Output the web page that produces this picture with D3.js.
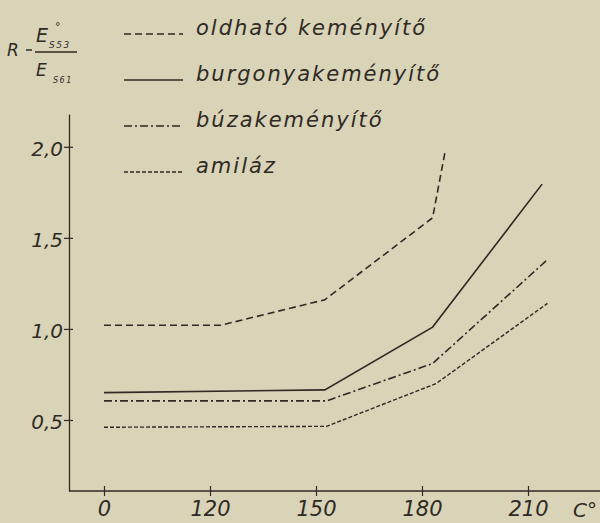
<!DOCTYPE html>
<html>
<head>
<meta charset="utf-8">
<script src="https://cdn.jsdelivr.net/npm/d3@7"></script>
<style>
  html, body { margin: 0; padding: 0; background: #d9d3b8; }
  svg { display: block; }
  .hand { font-family: "DejaVu Sans", sans-serif; font-style: italic; fill: #2f2a24; }
</style>
</head>
<body>
<div id="chart"></div>
<script>
// x ticks (temperature, C°) - axis is not linear, each step is equal width
var tempTicks = [0, 120, 150, 180, 210];
var rTicks = [0.5, 1.0, 1.5, 2.0];

var seriesNames = ["oldható keményítő", "burgonyakeményítő", "búzakeményítő", "amiláz"];

// values
var oldhatoT = [0, 123, 152.5, 183, 186.5];
var oldhatoR = [1.02, 1.02, 1.16, 1.61, 1.97];
var burgonyaT = [0, 152.5, 183, 214];
var burgonyaR = [0.65, 0.665, 1.01, 1.795];
var buzaT = [0, 153, 183, 215.5];
var buzaR = [0.605, 0.605, 0.81, 1.38];
var amilazT = [0, 153, 184, 215.5];
var amilazR = [0.46, 0.465, 0.70, 1.14];

var width = 600, height = 523;
var ink = "#2f2a24";

var svg = d3.select("#chart")
            .append("svg")
            .attr("width", width)
            .attr("height", height);

// piecewise x scale, every tick step gets same width
var x = d3.scaleLinear()
          .domain(tempTicks)
          .range([104, 210, 316, 422, 528]);

var y = d3.scaleLinear()
          .domain([0.11, 2.18])
          .range([491, 114]);

var fmt = function (d) { return d3.format(".1f")(d).replace(".", ","); };

// --
var xAxis = d3.axisBottom(x)
              .tickValues(tempTicks)
              .tickSizeOuter(0)
              .tickFormat(d3.format("d"));

var gx = svg.append("g")
            .attr("transform", "translate(0," + y.range()[0] + ")")
            .call(xAxis);
gx.select(".domain").remove();
gx.selectAll(".tick line").attr("y1", -5).attr("y2", 5).attr("stroke", ink).attr("stroke-width", 1.2);
gx.selectAll(".tick text")
  .attr("class", "hand")
  .attr("y", 10)
  .attr("font-size", "21px")
  .attr("dy", "0.71em")
  .attr("font-family", null);

svg.append("line")
   .attr("x1", 69).attr("x2", width)
   .attr("y1", y.range()[0]).attr("y2", y.range()[0])
   .attr("stroke", ink).attr("stroke-width", 1.3);

svg.append("text")
   .attr("class", "hand")
   .attr("x", 597)
   .attr("y", 517)
   .attr("text-anchor", "end")
   .attr("font-size", "20px")
   .text("C°");

// --
var yAxis = d3.axisLeft(y)
              .tickValues(rTicks)
              .tickSizeOuter(0)
              .tickFormat(fmt);

var gy = svg.append("g")
            .attr("transform", "translate(69,0)")
            .call(yAxis);
gy.select(".domain").attr("stroke", ink).attr("stroke-width", 1.3);
gy.selectAll(".tick line").attr("x1", -5).attr("x2", 4).attr("stroke", ink).attr("stroke-width", 1.2);
gy.selectAll(".tick text")
  .attr("class", "hand")
  .attr("x", -6)
  .attr("dy", "0.45em")
  .attr("font-size", "20px")
  .attr("font-family", null);

// --
var series = [
  { name: seriesNames[0], t: oldhatoT, r: oldhatoR, dash: "7,4", w: 1.6 },
  { name: seriesNames[1], t: burgonyaT, r: burgonyaR, dash: null, w: 1.6 },
  { name: seriesNames[2], t: buzaT, r: buzaR, dash: "8,3,2,3", w: 1.6 },
  { name: seriesNames[3], t: amilazT, r: amilazR, dash: "4,2", w: 1.4 }
];

var line = d3.line()
             .x(function (d) { return x(d[0]); })
             .y(function (d) { return y(d[1]); });

svg.selectAll(".curve")
   .data(series)
   .enter()
   .append("path")
   .attr("class", "curve")
   .attr("fill", "none")
   .attr("stroke", ink)
   .attr("stroke-width", function (d) { return d.w; })
   .attr("stroke-dasharray", function (d) { return d.dash; })
   .attr("d", function (d) { return line(d3.zip(d.t, d.r)); });

// legend
var legend = svg.selectAll(".leg")
                .data(series)
                .enter()
                .append("g")
                .attr("class", "leg")
                .attr("transform", function (d, i) { return "translate(0," + (34 + i * 46) + ")"; });

legend.append("line")
      .attr("x1", 124).attr("x2", 183)
      .attr("y1", 0).attr("y2", 0)
      .attr("stroke", ink)
      .attr("stroke-width", function (d) { return d.w; })
      .attr("stroke-dasharray", function (d) { return d.dash; });

legend.append("text")
      .attr("class", "hand")
      .attr("x", 196)
      .attr("y", 1)
      .attr("font-size", "21px")
      .attr("letter-spacing", "2px")
      .text(function (d) { return d.name; });

// formula  R = E°S53 / ES61
var f = svg.append("g").attr("class", "hand");
f.append("text").attr("x", 7).attr("y", 56).attr("font-size", "17px").text("R");
f.append("line").attr("x1", 26).attr("x2", 32).attr("y1", 50).attr("y2", 50).attr("stroke", ink).attr("stroke-width", 1.5);
f.append("line").attr("x1", 35).attr("x2", 77).attr("y1", 52).attr("y2", 52).attr("stroke", ink).attr("stroke-width", 1.5);
f.append("text").attr("x", 36).attr("y", 42).attr("font-size", "19px").text("E");
f.append("text").attr("x", 55).attr("y", 30).attr("font-size", "11px").text("°");
f.append("text").attr("x", 49).attr("y", 48).attr("font-size", "9px").attr("letter-spacing", "1.5px").text("S53");
f.append("text").attr("x", 36).attr("y", 76).attr("font-size", "17px").text("E");
f.append("text").attr("x", 53).attr("y", 83).attr("font-size", "8px").attr("letter-spacing", "1.5px").text("S61");
</script>
</body>
</html>
